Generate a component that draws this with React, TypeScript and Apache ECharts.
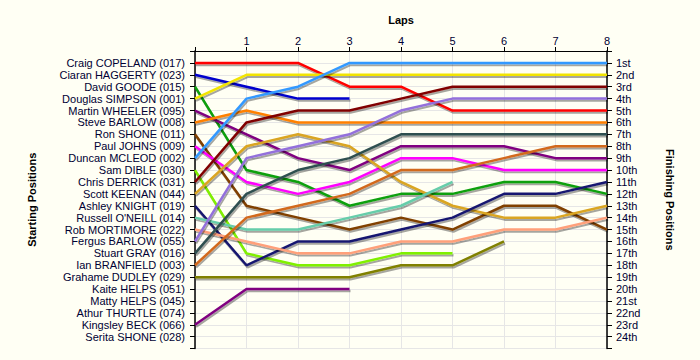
import React, { useEffect, useRef } from "react";
import * as echarts from "echarts";

const laps = [0, 1, 2, 3, 4, 5, 6, 7, 8];
const lapLabels = ["", "1", "2", "3", "4", "5", "6", "7", "8"];

const starters = [
  "Craig COPELAND (017)",
  "Ciaran HAGGERTY (023)",
  "David GOODE (015)",
  "Douglas SIMPSON (001)",
  "Martin WHEELER (095)",
  "Steve BARLOW (008)",
  "Ron SHONE (011)",
  "Paul JOHNS (009)",
  "Duncan MCLEOD (002)",
  "Sam DIBLE (030)",
  "Chris DERRICK (031)",
  "Scott KEENAN (044)",
  "Ashley KNIGHT (019)",
  "Russell O'NEILL (014)",
  "Rob MORTIMORE (022)",
  "Fergus BARLOW (055)",
  "Stuart GRAY (016)",
  "Ian BRANFIELD (003)",
  "Grahame DUDLEY (029)",
  "Kaite HELPS (051)",
  "Matty HELPS (045)",
  "Athur THURTLE (074)",
  "Kingsley BECK (066)",
  "Serita SHONE (028)",
];

const finishLabels = [
  "1st", "2nd", "3rd", "4th", "5th", "6th", "7th", "8th", "9th", "10th",
  "11th", "12th", "13th", "14th", "15th", "16th", "17th", "18th", "19th",
  "20th", "21st", "22nd", "23rd", "24th",
];

const driverColors = [
  "#ff0000", "#0000cc", "#10a010", "#f2e400", "#800080", "#ff8000",
  "#804000", "#ff00ff", "#3399ff", "#80f000", "#800000", "#daa520",
  "#191970", "#66cdaa", "#ffa07a", "#9370db", "#2f4f4f", "#d2691e",
  "#808000", "#999999", "#999999", "#999999", "#800080", "#999999",
];

// positions per lap (lap 0 = start), one list per starter
const craig = [1, 1, 1, 3, 3, 5, 5, 5, 5];
const ciaran = [2, 3, 4, 4];
const david = [3, 10, 11, 13, 12, 12, 11, 11, 12];
const douglas = [4, 2, 2, 2, 2, 2, 2, 2, 2];
const martin = [5, 7, 9, 10, 8, 8, 8, 9, 9];
const steve = [6, 5, 6, 6, 6, 6, 6, 6, 6];
const ron = [7, 13, 14, 15, 14, 15, 13, 13, 15];
const paul = [8, 11, 12, 11, 9, 9, 10, 10, 10];
const duncan = [9, 4, 3, 1, 1, 1, 1, 1, 1];
const sam = [10, 17, 18, 18, 17, 17];
const chris = [11, 6, 5, 5, 4, 3, 3, 3, 3];
const scott = [12, 8, 7, 8, 11, 13, 14, 14, 13];
const ashley = [13, 18, 16, 16, 15, 14, 12, 12, 11];
const russell = [14, 15, 15, 14, 13, 11];
const rob = [15, 16, 17, 17, 16, 16, 15, 15, 14];
const fergus = [16, 9, 8, 7, 5, 4, 4, 4, 4];
const stuart = [17, 12, 10, 9, 7, 7, 7, 7, 7];
const ian = [18, 14, 13, 12, 10, 10, 9, 8, 8];
const grahame = [19, 19, 19, 19, 18, 18, 16];
const kaite: number[] = [];
const matty: number[] = [];
const athur: number[] = [];
const kingsley = [23, 20, 20, 20];
const serita: number[] = [];

const positions = [
  craig, ciaran, david, douglas, martin, steve, ron, paul, duncan, sam,
  chris, scott, ashley, russell, rob, fergus, stuart, ian, grahame, kaite,
  matty, athur, kingsley, serita,
];

const FONT = "Liberation Sans";

export default function App() {
  const ref = useRef<HTMLDivElement>(null);
  useEffect(() => {
    if (!ref.current) return;
    const chart = echarts.init(ref.current, undefined, { renderer: "svg" });
    const series = positions
      .map((pos, i) => ({ pos, i }))
      .filter((d) => d.pos.length > 0)
      .map(({ pos, i }) => ({
        name: starters[i],
        type: "line",
        yAxisIndex: 0,
        showSymbol: false,
        symbol: "none",
        data: pos.map((p, k) => [laps[k], p]),
        lineStyle: {
          color: driverColors[i],
          width: 2.5,
          shadowColor: "rgba(0,0,0,0.35)",
          shadowOffsetX: 1,
          shadowOffsetY: 2,
          shadowBlur: 1,
        },
        itemStyle: { color: driverColors[i] },
      }));
    const yCommon = {
      type: "value",
      min: 0,
      max: 25,
      interval: 1,
      inverse: true,
      nameLocation: "middle",
      nameTextStyle: { fontFamily: FONT, fontWeight: "bold", fontSize: 11, color: "#000" },
      axisLine: { show: true, lineStyle: { color: "#000", width: 1.5 } },
      axisTick: { show: true, length: 5, lineStyle: { color: "#000" } },
    };
    chart.setOption({
      animation: false,
      backgroundColor: "#fffff4",
      grid: { left: 195, right: 93, top: 51, bottom: 11.4, containLabel: false },
      xAxis: {
        type: "value",
        position: "top",
        min: 0,
        max: 8,
        interval: 1,
        name: "Laps",
        nameLocation: "middle",
        nameGap: 26,
        nameTextStyle: { fontFamily: FONT, fontWeight: "bold", fontSize: 11, color: "#000" },
        axisLine: { show: true, lineStyle: { color: "#000", width: 1 } },
        axisTick: { show: true, length: 4, inside: false, lineStyle: { color: "#000" } },
        axisLabel: {
          fontFamily: FONT,
          fontSize: 11,
          color: "#000033",
          margin: 5,
          formatter: (v: number) => lapLabels[v] ?? "",
        },
        splitLine: { show: true, lineStyle: { color: "#e6e6e6", width: 1 } },
      },
      yAxis: [
        {
          ...yCommon,
          position: "left",
          name: "Starting Positions",
          nameRotate: 90,
          nameGap: 158,
          axisLabel: {
            fontFamily: FONT,
            fontSize: 11,
            color: "#000033",
            margin: 10,
            formatter: (v: number) => starters[v - 1] ?? "",
          },
          splitLine: { show: true, lineStyle: { color: "#e6e6e6", width: 1 } },
        },
        {
          ...yCommon,
          position: "right",
          name: "Finishing Positions",
          nameRotate: -90,
          nameGap: 57,
          axisLabel: {
            fontFamily: FONT,
            fontSize: 11,
            color: "#000033",
            margin: 9,
            formatter: (v: number) => finishLabels[v - 1] ?? "",
          },
          splitLine: { show: false },
        },
      ],
      series,
    });
    return () => chart.dispose();
  }, []);
  return (
    <div
      ref={ref}
      style={{ position: "fixed", left: 0, top: 0, width: 700, height: 360 }}
    />
  );
}
